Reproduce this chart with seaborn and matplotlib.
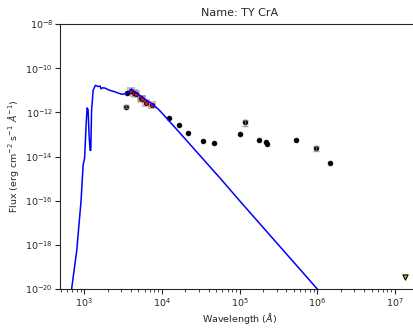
import numpy as np
import pandas as pd
import seaborn as sns
import matplotlib
matplotlib.use('Agg')
import matplotlib.pyplot as plt
from matplotlib.ticker import NullFormatter

# model spectrum (Angstrom, erg/cm2/s/A)
model_wave = [660, 805, 915, 971, 1015, 1061, 1093, 1126, 1159, 1194, 1219, 1248,
              1279, 1305, 1397, 1513, 1606, 1655, 1705, 1862, 2079, 2292, 2528,
              2737, 3080, 3575, 4056, 4395, 4950, 6040, 7340, 8960, 9870,
              20000, 59000, 100000, 300000, 1000000, 10000000]
model_flux = [3e-21, 5.8e-19, 1.07e-16, 4.1e-15, 8.5e-15, 2.7e-13, 1.6e-12, 1.3e-12,
              9.3e-14, 1.9e-14, 1.9e-14, 1.3e-12, 3.6e-12, 1.0e-11, 1.67e-11,
              1.48e-11, 1.55e-11, 1.15e-11, 1.3e-11, 1.26e-11, 1.03e-11, 9.3e-12,
              8.4e-12, 7.5e-12, 6.6e-12, 7.1e-12, 1.15e-11, 8.3e-12, 6.7e-12,
              4.0e-12, 2.56e-12, 1.42e-12, 1.0e-12,
              6.25e-14, 8.6e-16, 1e-16, 1.23e-18, 1e-20, 1e-24]

# observed photometry
phot_wave = [3470, 3610, 12500, 16800, 21950, 33600, 46600, 102000, 117700,
             178000, 216000, 224000, 533000, 973000, 1446000]
phot_flux = [1.8e-12, 7.2e-12, 5.7e-13, 2.67e-13, 1.15e-13, 5.0e-14, 3.95e-14,
             1.05e-13, 3.55e-13, 5.4e-14, 4.4e-14, 3.7e-14, 5.4e-14, 2.35e-14, 5.0e-15]
phot_err = [0.25e-12, 0, 0, 0, 0, 0, 0, 0, 1.2e-13, 0, 0, 0, 0, 0.5e-14, 0]

# fitted photometry (red)
fit_wave = [3990, 4400, 4670, 5410, 5570, 6270, 7430]
fit_flux = [9.5e-12, 7.7e-12, 6.9e-12, 4.3e-12, 4.0e-12, 2.7e-12, 2.14e-12]

# upper limit
lim_wave = [1.346e7]
lim_flux = [3.4e-20]

x_ticks = [1e3, 1e4, 1e5, 1e6, 1e7]
y_ticks = [1e-20, 1e-18, 1e-16, 1e-14, 1e-12, 1e-10, 1e-8]

sns.set_style('ticks')
plt.rcParams['font.family'] = ['DejaVu Sans']
plt.rcParams['font.size'] = 6.8

fig = plt.figure(figsize=(4.14, 3.32), dpi=100)
ax = fig.add_axes([0.145, 0.1295, 0.8657, 0.798])

model = pd.DataFrame({'wave': model_wave, 'flux': model_flux})
phot = pd.DataFrame({'wave': phot_wave, 'flux': phot_flux})
fit = pd.DataFrame({'wave': fit_wave, 'flux': fit_flux})

sns.lineplot(data=model, x='wave', y='flux', sort=False, estimator=None,
             color='blue', lw=1.1, ax=ax)

# error bars only where they exist
has_err = [e > 0 for e in phot_err]
ax.errorbar([w for w, h in zip(phot_wave, has_err) if h],
            [f for f, h in zip(phot_flux, has_err) if h],
            yerr=[e for e, h in zip(phot_err, has_err) if h],
            fmt='none', ecolor='gray', elinewidth=1, capsize=2, alpha=0.7)
sns.scatterplot(data=fit, x='wave', y='flux', marker='s', s=30, color='gray',
                alpha=0.5, edgecolor='none', ax=ax)
sns.scatterplot(data=phot, x='wave', y='flux', color='black', s=12,
                edgecolor='black', linewidth=0.5, ax=ax)
sns.scatterplot(data=fit, x='wave', y='flux', color='red', s=10,
                edgecolor='black', linewidth=0.5, ax=ax)
ax.scatter(lim_wave, lim_flux, marker='v', s=14, color='y', edgecolor='black',
           linewidth=0.8)

ax.set_xscale('log')
ax.set_yscale('log')
ax.set_xlim(490, 2e7)
ax.set_ylim(1e-20, 1e-8)
ax.set_xticks(x_ticks)
ax.set_yticks(y_ticks)
ax.xaxis.set_minor_formatter(NullFormatter())
ax.yaxis.set_minor_formatter(NullFormatter())
ax.tick_params(axis='both', which='major', pad=1.5, length=3.5)
ax.tick_params(axis='both', which='minor', length=2)
ax.set_xlabel(r'Wavelength ($\AA$)', labelpad=2)
ax.set_ylabel(r'Flux (erg cm$^{-2}$ s$^{-1}$ $\AA^{-1}$)', labelpad=3)
ax.set_title('Name: TY CrA', fontsize=8)

fig.savefig('out.png', dpi=100)
